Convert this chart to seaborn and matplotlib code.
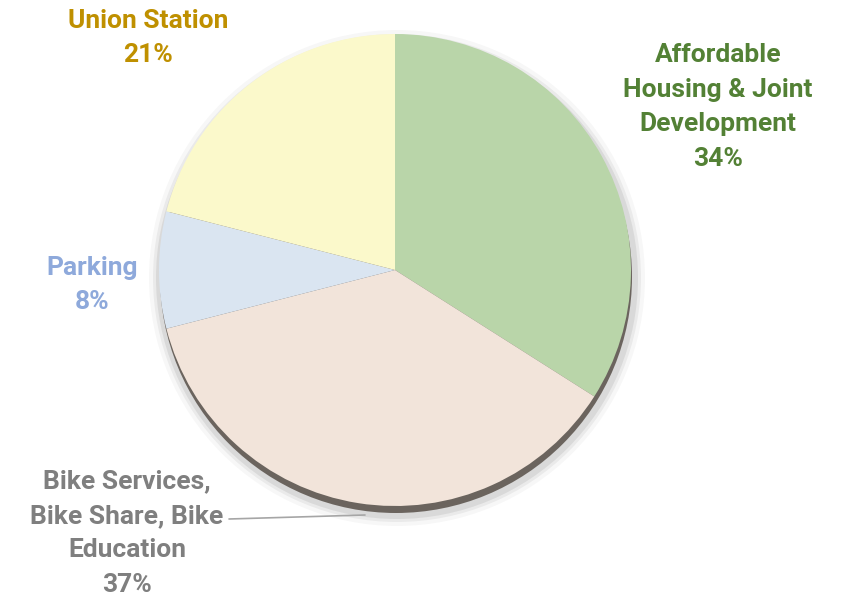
import matplotlib
matplotlib.use("Agg")
import matplotlib.pyplot as plt
from matplotlib.patches import Circle
import seaborn as sns

categories = ["Affordable\nHousing & Joint\nDevelopment", "Bike Services,\nBike Share, Bike\nEducation", "Parking", "Union Station"]
values = [34, 37, 8, 21]
fill_colors = ["#B9D5A9", "#F2E4DA", "#DAE5F1", "#FBF9CB"]
text_colors = ["#538135", "#7F7F7F", "#8EA9DB", "#BF9000"]

sns.set_theme(style="white")
plt.rcParams['font.family'] = ['Roboto', 'DejaVu Sans']

W, H = 841, 597
fig = plt.figure(figsize=(W / 100, H / 100), dpi=100)
ax = fig.add_axes([0, 0, 1, 1])
ax.set_xlim(0, W)
ax.set_ylim(0, H)
ax.axis("off")

cx, cy, r = 395, H - 270, 236

# soft halo + shadow
for k, a in [(12, 0.03), (8, 0.05), (5, 0.07)]:
    ax.add_patch(Circle((cx + 2, cy - 8), r + k, color="#000000", alpha=a, lw=0, zorder=1))
ax.add_patch(Circle((cx + 1, cy - 7), r, color="#6B645E", lw=0, zorder=2))

ax.pie(values, colors=fill_colors, startangle=90, counterclock=False,
       center=(cx, cy), radius=r, frame=True,
       wedgeprops=dict(linewidth=0, zorder=3))
ax.set_xlim(0, W)
ax.set_ylim(0, H)
ax.set_aspect("equal")
ax.axis("off")

fs = 19
ls = 1.55
label_pos = [(718, 107), (127, 533), (92, 285), (148, 38)]
for cat, v, col, (x, y) in zip(categories, values, text_colors, label_pos):
    ax.text(x, H - y, f"{cat}\n{v}%", color=col, fontsize=fs, fontweight="bold",
            ha="center", va="center", linespacing=ls, zorder=5)

# leader line for Bike label
ax.plot([229, 365], [H - 519, H - 515], color="#A6A6A6", lw=1.2, zorder=4)

fig.savefig("out.png", dpi=100)
